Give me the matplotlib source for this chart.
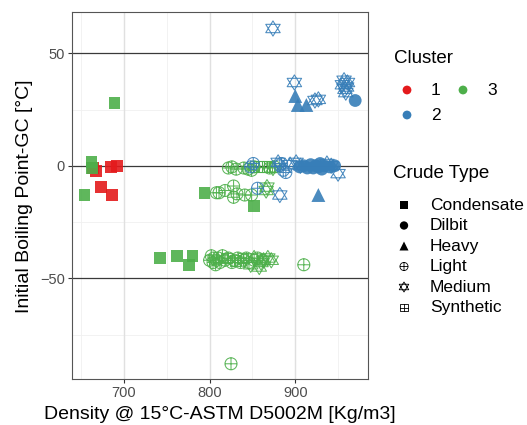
import matplotlib
matplotlib.use("Agg")
import matplotlib.pyplot as plt
import matplotlib.path as mpath
import numpy as np

plt.rcParams['font.family'] = ['Liberation Sans', 'DejaVu Sans']

# ---------------- data ----------------
# Cluster 1 (red) - Condensate
c1_cond_density = [664, 667, 673, 686, 685, 692]
c1_cond_ibp = [-1, -2.5, -9.5, -13, -0.5, 0]

# Cluster 3 (green)
c3_cond_density = [662, 663, 654, 689, 794, 852, 742, 762, 780, 776]
c3_cond_ibp = [1.5, -1, -13, 28, -12, -18, -41, -40, -40, -44]

c3_light_density = [822, 826, 831, 840, 845, 849, 852, 870, 876,
                    808, 811, 818, 828, 828, 832, 841, 849,
                    800, 802, 804, 805, 807, 808, 810, 812, 815, 818, 822,
                    826, 829, 833, 836, 840, 843, 846, 852, 856, 862,
                    910, 825]
c3_light_ibp = [-1, -0.5, -1.5, -1, -1.5, -2, -0.5, -1, -0.5,
                -12, -12, -11, -9, -14, -12.5, -13, -13,
                -42, -40, -43, -41, -44, -42, -41, -43, -40, -42, -41,
                -43, -42, -41, -43, -42, -41, -43, -42, -41, -42,
                -44, -88]

c3_synth_density = [857, 861, 864, 867, 820, 830, 839]
c3_synth_ibp = [-0.5, -0.5, -0.5, -0.5, -41, -42, -41]

c3_medium_density = [874, 867, 866, 848, 852, 858, 863, 868, 872, 860]
c3_medium_ibp = [-1, -9.5, -11, -44, -41, -45, -42, -41, -42, -43]

# Cluster 2 (blue)
c2_light_density = [848, 851, 882, 886, 889, 884, 856]
c2_light_ibp = [-0.5, 1, 0, -2, -3, 1, -10]

c2_medium_density = [880, 894, 901, 906, 937, 950, 942, 882,
                     874, 899, 923, 927, 955, 957, 958, 959, 961, 960]
c2_medium_ibp = [1.5, 0.5, 1.5, 0, 1, -3.5, 0, -13,
                 61, 37, 29, 29.5, 36, 38, 34, 32.5, 37, 35]

c2_dilbit_density = [905, 910, 914, 918, 921, 924, 927, 929, 931, 934, 940, 946, 970]
c2_dilbit_ibp = [-0.5, 0, -1, 0.5, -1, 0, -0.5, 1, -1.5, 0, -0.5, 0, 29]

c2_heavy_density = [927, 900, 903, 913]
c2_heavy_ibp = [-13, 31, 27, 27]

cluster_labels = ["1", "2", "3"]
crude_labels = ["Condensate", "Dilbit", "Heavy", "Light", "Medium", "Synthetic"]
x_ticks = [700, 800, 900]
y_ticks = [-50, 0, 50]

# ---------------- styling ----------------
RED, BLUE, GREEN = "#E41A1C", "#377EB8", "#4DAF4A"

MOVE, LINE, CLOSE = mpath.Path.MOVETO, mpath.Path.LINETO, mpath.Path.CLOSEPOLY
uc = mpath.Path.unit_circle()
circ_plus = mpath.Path(np.vstack([uc.vertices, [[-1, 0], [1, 0], [0, -1], [0, 1]]]),
                       list(uc.codes) + [MOVE, LINE, MOVE, LINE])
h = 0.95
star = mpath.Path([[0, 1], [-h, -0.55], [h, -0.55], [0, 1],
                   [0, -1], [-h, 0.55], [h, 0.55], [0, -1]],
                  [MOVE, LINE, LINE, CLOSE, MOVE, LINE, LINE, CLOSE])
sq_plus = mpath.Path([[-1, -1], [1, -1], [1, 1], [-1, 1], [-1, -1],
                      [-1, 0], [1, 0], [0, -1], [0, 1]],
                     [MOVE, LINE, LINE, LINE, CLOSE, MOVE, LINE, MOVE, LINE])

W, H = 527, 425
fig = plt.figure(figsize=(W / 100, H / 100), dpi=100)
L, R, T, B = 71.7, 367.7, 12.3, 379.3
ax = fig.add_axes([L / W, (H - B) / H, (R - L) / W, (B - T) / H])
ax.set_xlim(639, 984.6)
ax.set_ylim(-94.9, 68.2)

# grid
for v in [650, 750, 850, 950]:
    ax.axvline(v, color="#F0F0F0", lw=0.6, zorder=0)
for v in [-75, -25, 25]:
    ax.axhline(v, color="#F0F0F0", lw=0.6, zorder=0)
for v in x_ticks:
    ax.axvline(v, color="#E0E0E0", lw=1.0, zorder=0)
for v in y_ticks:
    ax.axhline(v, color="#3A3A3A", lw=0.9, zorder=1)

ax.set_xticks(x_ticks)
ax.set_yticks(y_ticks)
ax.tick_params(axis="both", length=3, width=0.8, color="#333333",
               labelsize=10.5, labelcolor="#4D4D4D", pad=2)
for sp in ax.spines.values():
    sp.set_color("#555555")
    sp.set_linewidth(0.8)

A = 0.9
def filled(x, y, c, m, s):
    ax.scatter(x, y, s=s, marker=m, color=c, edgecolors="none", alpha=A, zorder=3)
def opened(x, y, c, m, s):
    ax.scatter(x, y, s=s, marker=m, facecolors="none", edgecolors=c, linewidths=0.75,
               alpha=A, zorder=3)

filled(c1_cond_density, c1_cond_ibp, RED, "s", 72)
filled(c3_cond_density, c3_cond_ibp, GREEN, "s", 72)
opened(c3_light_density, c3_light_ibp, GREEN, circ_plus, 75)
opened(c3_synth_density, c3_synth_ibp, GREEN, sq_plus, 62)
opened(c3_medium_density, c3_medium_ibp, GREEN, star, 120)
opened(c2_light_density, c2_light_ibp, BLUE, circ_plus, 75)
opened(c2_medium_density, c2_medium_ibp, BLUE, star, 120)
filled(c2_dilbit_density, c2_dilbit_ibp, BLUE, "o", 85)
filled(c2_heavy_density, c2_heavy_ibp, BLUE, "^", 100)

ax.set_xlabel("Density @ 15°C-ASTM D5002M [Kg/m3]", fontsize=14, labelpad=4)
ax.set_ylabel("Initial Boiling Point-GC [°C]", fontsize=14, labelpad=5)

# ---------------- legends ----------------
ov = fig.add_axes([0, 0, 1, 1], zorder=10)
ov.set_xlim(0, W)
ov.set_ylim(H, 0)
ov.axis("off")

ov.text(394, 58, "Cluster", fontsize=13.5, va="center", ha="left")
cl_pos = [(407, 90), (407, 115), (463, 90)]
for lab, c, (px, py) in zip(cluster_labels, [RED, BLUE, GREEN], cl_pos):
    ov.scatter([px], [py], s=40, marker="o", color=c, edgecolors="none")
    ov.text(px + 24, py, lab, fontsize=12.5, va="center", ha="left")

ov.text(393, 173, "Crude Type", fontsize=13.5, va="center", ha="left")
marks = ["s", "o", "^", circ_plus, star, sq_plus]
sizes = [32, 36, 42, 34, 52, 30]
fills = [True, True, True, False, False, False]
for i, (lab, m, s, f) in enumerate(zip(crude_labels, marks, sizes, fills)):
    py = 205 + i * 20.5
    if f:
        ov.scatter([404], [py], s=s, marker=m, color="black", edgecolors="none")
    else:
        ov.scatter([404], [py], s=s, marker=m, facecolors="none", edgecolors="black",
                   linewidths=0.6)
    ov.text(430, py, lab, fontsize=12.5, va="center", ha="left")

fig.savefig("out.png", dpi=100)
